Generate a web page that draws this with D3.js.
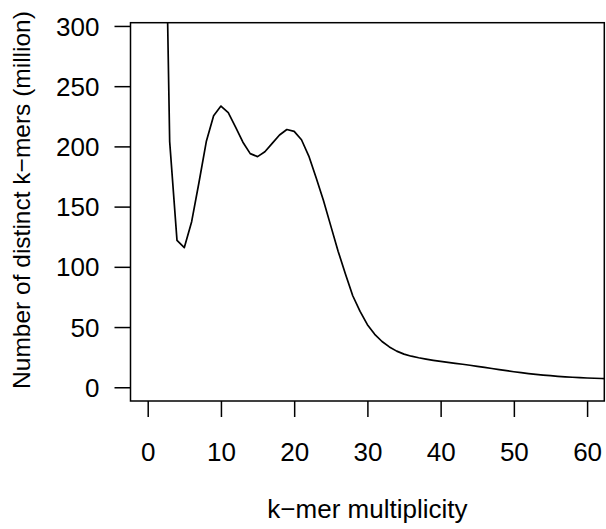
<!DOCTYPE html>
<html>
<head>
<meta charset="utf-8">
<script src="https://cdn.jsdelivr.net/npm/d3@7"></script>
<style>
  body { margin: 0; background: #fff; }
  text { font-family: "Liberation Sans", Arial, Helvetica, sans-serif; fill: #000; }
</style>
</head>
<body>
<div id="chart"></div>
<script>
// k-mer multiplicity (x) and distinct k-mers in millions (y)
const multiplicity = [2, 3, 4, 5, 6, 7, 8, 9, 10, 11, 12, 13, 14, 15, 16, 17, 18, 19, 20,
    21, 22, 23, 24, 25, 26, 27, 28, 29, 30, 31, 32, 33, 34, 35, 36, 37, 38, 39, 40,
    41, 42, 43, 44, 45, 46, 47, 48, 49, 50, 51, 52, 53, 54, 55, 56, 57, 58, 59, 60,
    61, 62, 63];
const distinctKmers = [560, 204, 122, 116, 137.5, 170, 204, 225.5, 233.5, 228, 216, 203.5, 194, 191.5, 195.5, 202.5, 209.5, 214, 212.5,
    205.5, 192, 174, 155, 134, 113, 94, 76, 63, 52, 44, 38, 33.5, 30, 27.5, 25.8, 24.5, 23.4, 22.4, 21.5,
    20.7, 19.9, 19.1, 18.3, 17.4, 16.5, 15.6, 14.7, 13.8, 12.9, 12.1, 11.4, 10.7, 10.1, 9.6, 9.1, 8.7, 8.3, 8.0, 7.7,
    7.5, 7.3, 7.1];
const xTicks = [0, 10, 20, 30, 40, 50, 60];
const yTicks = [0, 50, 100, 150, 200, 250, 300];

const W = 606, H = 529;
const box = { left: 130.5, right: 604.3, top: 22.7, bottom: 401 };

const svg = d3.select("#chart").append("svg")
    .attr("width", W)
    .attr("height", H);

const x = d3.scaleLinear().domain([-2.35, 62.35]).range([box.left, box.right]);
const y = d3.scaleLinear().domain([-11.4, 302.7]).range([box.bottom, box.top]);

svg.append("clipPath").attr("id", "plotClip")
  .append("rect")
    .attr("x", box.left).attr("y", box.top)
    .attr("width", box.right - box.left).attr("height", box.bottom - box.top);

const pts = multiplicity.map((m, i) => [m, distinctKmers[i]]);

svg.append("path")
    .datum(pts)
    .attr("clip-path", "url(#plotClip)")
    .attr("fill", "none")
    .attr("stroke", "#000")
    .attr("stroke-width", 1.7)
    .attr("stroke-linejoin", "round")
    .attr("d", d3.line().x(d => x(d[0])).y(d => y(d[1])));

// x axis
const xAxis = svg.append("g")
    .attr("transform", `translate(0,${box.bottom})`)
    .call(d3.axisBottom(x).tickValues(xTicks).tickSize(16).tickPadding(0).tickFormat(d3.format("d")));
xAxis.select(".domain").remove();
xAxis.selectAll("line").attr("stroke", "#000").attr("stroke-width", 1.5);
xAxis.selectAll("text")
    .attr("y", 60).attr("dy", null)
    .style("font-size", "26px");

// y axis
const yAxis = svg.append("g")
    .attr("transform", `translate(${box.left},0)`)
    .call(d3.axisLeft(y).tickValues(yTicks).tickSize(16).tickPadding(0).tickFormat(d3.format("d")));
yAxis.select(".domain").remove();
yAxis.selectAll("line").attr("stroke", "#000").attr("stroke-width", 1.5);
yAxis.selectAll("text")
    .attr("x", -31).attr("dy", "0.35em")
    .style("font-size", "26px");

// frame
svg.append("rect")
    .attr("x", box.left).attr("y", box.top)
    .attr("width", box.right - box.left).attr("height", box.bottom - box.top)
    .attr("fill", "none")
    .attr("stroke", "#000")
    .attr("stroke-width", 1.5);

// axis titles
svg.append("text")
    .attr("x", (box.left + box.right) / 2)
    .attr("y", 518)
    .attr("text-anchor", "middle")
    .style("font-size", "26px")
    .text("k\u2212mer multiplicity");

svg.append("text")
    .attr("transform", "translate(30,200) rotate(-90)")
    .attr("text-anchor", "middle")
    .style("font-size", "24.5px")
    .text("Number of distinct k\u2212mers (million)");
</script>
</body>
</html>
